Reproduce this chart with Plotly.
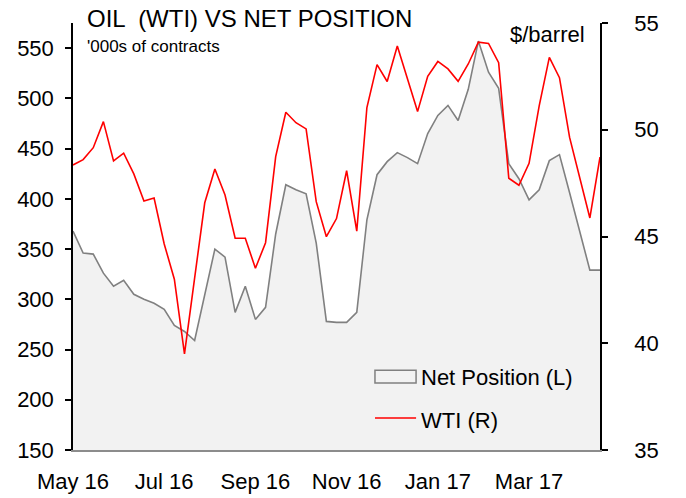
import pandas as pd
import plotly.graph_objects as go

# Weekly observations (CFTC report Tuesdays), May 2016 - May 2017
weeks = pd.date_range("2016-05-03", periods=53, freq="7D")

net_position = [368, 346, 345, 326, 313, 319, 305, 300, 296, 290,
                274, 268, 259, 304, 350, 342, 287, 313, 280, 292,
                365, 414, 409, 405, 356, 278, 277, 277, 287, 379,
                424, 437, 446, 441, 435, 465, 483, 493, 478, 509,
                557, 526, 510, 435, 420, 399, 409, 438, 444, 406,
                367, 329, 329]

wti = [48.35, 48.60, 49.16, 50.38, 48.54, 48.90, 47.93, 46.66, 46.80, 44.65,
       43.00, 39.50, 43.05, 46.58, 48.16, 46.94, 44.92, 44.92, 43.51, 44.71,
       48.74, 50.82, 50.33, 50.04, 46.63, 44.99, 45.84, 48.08, 45.25, 51.04,
       53.05, 52.26, 53.92, 52.37, 50.85, 52.50, 53.20, 52.85, 52.27, 53.08,
       54.10, 54.04, 53.14, 47.73, 47.40, 48.43, 51.12, 53.39, 52.44, 49.64,
       47.72, 45.87, 48.72]

tick_dates = ["2016-05-03", "2016-07-05", "2016-09-06", "2016-11-08", "2017-01-10", "2017-03-14"]
tick_labels = ["May 16", "Jul 16", "Sep 16", "Nov 16", "Jan 17", "Mar 17"]

left_ticks = [150, 200, 250, 300, 350, 400, 450, 500, 550]
right_ticks = [35, 40, 45, 50, 55]

series_names = ["Net Position (L)", "WTI (R)"]
line_colors = ["#808080", "#ff0000"]
fill_color = "#f2f2f2"

FONT = "Liberation Sans, Arial, sans-serif"

fig = go.Figure()
fig.add_trace(go.Scatter(
    x=weeks, y=net_position, name=series_names[0], mode="lines",
    line=dict(color=line_colors[0], width=1.6), fill="tozeroy", fillcolor=fill_color,
    yaxis="y", showlegend=False))
fig.add_trace(go.Scatter(
    x=weeks, y=wti, name=series_names[1], mode="lines",
    line=dict(color=line_colors[1], width=1.6),
    yaxis="y2", showlegend=False))

# Legend keys (drawn in paper space, bottom-right of the plot)
legend_shapes = [
    dict(type="rect", xref="paper", yref="paper", x0=0.573, x1=0.651, y0=0.157, y1=0.187,
         line=dict(color=line_colors[0], width=1.5), fillcolor=fill_color, layer="above"),
    dict(type="line", xref="paper", yref="paper", x0=0.573, x1=0.651, y0=0.075, y1=0.075,
         line=dict(color=line_colors[1], width=1.6), layer="above"),
]

fig.update_layout(
    width=686, height=498,
    margin=dict(l=73, r=86, t=23, b=48),
    paper_bgcolor="white", plot_bgcolor="white",
    font=dict(family=FONT, size=22, color="black"),
    showlegend=False,
    xaxis=dict(range=[weeks[0], weeks[-1]], tickvals=tick_dates, ticktext=tick_labels,
               showgrid=False, zeroline=False, showline=True, linecolor="#8c8c8c",
               linewidth=2, ticks="", ticklabelstandoff=11, automargin=False),
    yaxis=dict(range=[150, 575], tickvals=left_ticks, showgrid=False, zeroline=False,
               showline=True, linecolor="black", linewidth=1.5, ticks="outside",
               ticklen=6, tickwidth=1.5, tickcolor="black", ticklabelstandoff=7,
               automargin=False),
    yaxis2=dict(range=[35, 55], tickvals=right_ticks, overlaying="y", side="right",
                showgrid=False, zeroline=False, showline=True, linecolor="black",
                linewidth=1.5, ticks="outside", ticklen=6, tickwidth=1.5,
                tickcolor="black", ticklabelstandoff=22, automargin=False),
    shapes=legend_shapes,
    annotations=[
        dict(text="OIL  (WTI) VS NET POSITION", xref="paper", yref="paper",
             x=0.022, y=1.01, xanchor="left", yanchor="middle", showarrow=False,
             font=dict(size=24)),
        dict(text="'000s of contracts", xref="paper", yref="paper",
             x=0.022, y=0.944, xanchor="left", yanchor="middle", showarrow=False,
             font=dict(size=17)),
        dict(text="$/barrel", xref="paper", yref="paper",
             x=0.976, y=0.974, xanchor="right", yanchor="middle", showarrow=False,
             font=dict(size=22)),
        dict(text=series_names[0], xref="paper", yref="paper",
             x=0.657, y=0.170, xanchor="left", yanchor="middle", showarrow=False,
             font=dict(size=22)),
        dict(text=series_names[1], xref="paper", yref="paper",
             x=0.657, y=0.069, xanchor="left", yanchor="middle", showarrow=False,
             font=dict(size=22)),
    ],
)

# remove the default 8px page margin so the figure sits at the window's corner
fig.write_html("out.html", config={"displayModeBar": False},
               post_script="document.body.style.margin='0';")
